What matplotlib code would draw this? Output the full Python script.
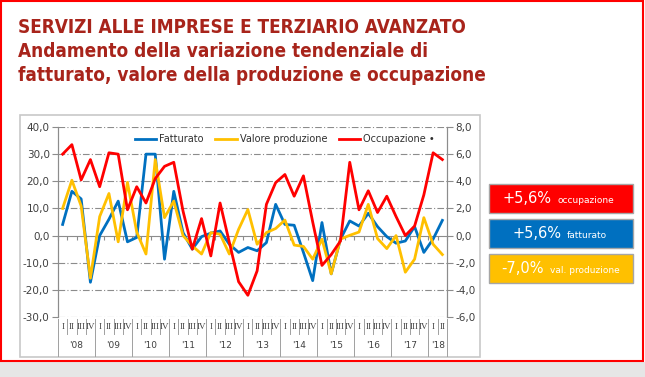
import numpy as np
import matplotlib
matplotlib.use("Agg")
import matplotlib.pyplot as plt
from matplotlib.patches import Rectangle
from matplotlib.lines import Line2D
from matplotlib.transforms import blended_transform_factory

# quarterly data 2008 Q1 - 2018 Q2
quarters = ["I", "II", "III", "IV"] * 10 + ["I", "II"]
years = ["'08", "'09", "'10", "'11", "'12", "'13", "'14", "'15", "'16", "'17", "'18"]

fatturato = [4.1, 16.3, 13.5, -17.2, 0.0, 6.0, 12.7, -2.3, -0.7, 30.0,
             30.0, -8.7, 16.3, 1.1, -5.0, -0.4, 0.9, 1.7, -3.2, -6.2,
             -4.4, -5.6, -2.6, 11.5, 4.1, 3.8, -6.2, -16.6, 4.8, -14.1,
             -1.3, 5.4, 3.5, 8.2, 3.3, -0.4, -2.8, -2.0, 3.3, -6.2,
             -1.3, 5.6]
valore_prod = [10.0, 20.4, 10.9, -15.7, 7.0, 15.5, -2.3, 19.6, 1.3, -6.8,
               28.0, 6.6, 12.7, 0.0, -3.8, -6.8, 1.1, 0.5, -6.8, 2.3,
               9.6, -3.2, 1.1, 2.6, 5.7, -3.5, -4.0, -8.7, -1.3, -14.1,
               -1.3, 0.1, 1.3, 11.5, -1.1, -4.8, 0.0, -13.5, -8.7, 6.6,
               -3.2, -7.0]
occupazione = [6.0, 6.7, 4.1, 5.6, 3.6, 6.1, 6.0, 1.9, 3.6, 2.4,
               4.2, 5.1, 5.4, 1.8, -1.0, 1.25, -1.5, 2.4, -0.5, -3.4,
               -4.4, -2.6, 2.3, 3.9, 4.5, 2.9, 4.4, 1.0, -2.2, -1.4,
               -0.4, 5.4, 1.9, 3.3, 1.7, 2.9, 1.4, 0.0, 0.7, 3.0,
               6.1, 5.6]

box_values = ["+5,6%", "+5,6%", "-7,0%"]
box_labels = ["occupazione", "fatturato", "val. produzione"]

W, H = 645, 377
fig = plt.figure(figsize=(W / 100, H / 100), dpi=100)
fig.patch.set_facecolor("white")


def fx(px):
    return px / W


def fy(py):
    return 1 - py / H


# page border and bottom strip
fig.patches.append(Rectangle((0, 0), 1, fy(362), transform=fig.transFigure,
                             facecolor="#E6E6E6", edgecolor="none", zorder=0))
fig.patches.append(Rectangle((fx(1), fy(361)), fx(642), fy(1) - fy(361),
                             transform=fig.transFigure, facecolor="white",
                             edgecolor="#FF0000", lw=1.5, zorder=0))
# chart frame
fig.patches.append(Rectangle((fx(20), fy(357)), fx(460), fy(115) - fy(357),
                             transform=fig.transFigure, facecolor="white",
                             edgecolor="#C8C8C8", lw=1.2, zorder=1))

title_col = "#A8241B"
for ty, line in zip([33, 57, 81], ["SERVIZI ALLE IMPRESE E TERZIARIO AVANZATO",
                                   "Andamento della variazione tendenziale di",
                                   "fatturato, valore della produzione e occupazione"]):
    fig.text(fx(18), fy(ty), line, family="DejaVu Sans", stretch="condensed",
             weight="bold", fontsize=13.6, color=title_col)

ax = fig.add_axes([fx(58), fy(317), fx(389), fy(127) - fy(317)])
ax.set_zorder(2)
ax.patch.set_visible(False)
x = np.arange(len(fatturato))

grid_col = "#8C8C8C"
for v in [-30, -20, -10, 10, 20, 30, 40]:
    ax.axhline(v, color=grid_col, lw=0.8, ls=(0, (6, 2, 1, 2)), zorder=0)

ax.plot(x, fatturato, color="#0070C0", lw=2, zorder=3, label="Fatturato")
ax.plot(x, valore_prod, color="#FFC000", lw=2, zorder=4, label="Valore produzione")
ax.set_xlim(-0.5, len(x) - 0.5)
ax.set_ylim(-30, 40)
ax.set_yticks(range(-30, 41, 10))
ax.set_yticklabels([f"{v:.1f}".replace(".", ",") for v in range(-30, 41, 10)])

ax2 = ax.twinx()
ax2.plot(x, occupazione, color="#FF0000", lw=2, zorder=5, label="Occupazione \u2022")
ax2.set_ylim(-6, 8)
ax2.set_yticks(range(-6, 9, 2))
ax2.set_yticklabels([f"{v:.1f}".replace(".", ",") for v in range(-6, 9, 2)])

for a in (ax, ax2):
    a.spines["top"].set_visible(False)
    a.tick_params(axis="y", length=4, color=grid_col, labelsize=7.5,
                  labelcolor="#404040", pad=2)
    a.spines["left"].set_color(grid_col)
    a.spines["right"].set_color(grid_col)
ax2.spines["bottom"].set_visible(False)

# category axis sits at zero
ax.spines["bottom"].set_position(("data", 0))
ax.spines["bottom"].set_color(grid_col)
ax.set_xticks(np.arange(-0.5, len(x), 1))
ax.tick_params(axis="x", length=3, color=grid_col, labelbottom=False)

# two-level category labels below the plot
bt = blended_transform_factory(ax.transData, fig.transFigure)
for i, q in enumerate(quarters):
    ax.text(i, fy(327), q, transform=bt, ha="center", va="center",
            fontsize=6.5, family="Liberation Serif", color="#404040")
for i in range(len(x) + 1):
    top, bot = fy(319), fy(334)
    if i % 4 == 0 or i == len(x):
        bot = fy(356)
    fig.add_artist(Line2D([i - 0.5, i - 0.5], [top, bot], transform=bt,
                          color="#A0A0A0", lw=0.7))
for j, yl in enumerate(years):
    start = j * 4
    end = min(start + 4, len(x))
    ax.text((start + end - 1) / 2, fy(346), yl, transform=bt, ha="center",
            va="center", fontsize=6.5, color="#404040")

handles = ax.get_lines()[-2:] + ax2.get_lines()
fig.legend(handles=handles, labels=[h.get_label() for h in handles],
           loc="center", bbox_to_anchor=(fx(285), fy(139)), ncol=3,
           frameon=False, fontsize=7, handlelength=2.2, handletextpad=0.3,
           columnspacing=1.2, labelcolor="#303030")

# summary boxes on the right
box_cols = ["#FF0000", "#0070C0", "#FFC000"]
box_tops = [184, 219, 254]
big_x = [552, 561, 544]
for col, top, val, lab, bx in zip(box_cols, box_tops, box_values, box_labels, big_x):
    fig.patches.append(Rectangle((fx(489), fy(top + 29)), fx(144), fy(top) - fy(top + 29),
                                 transform=fig.transFigure, facecolor=col,
                                 edgecolor="#A6A6A6", lw=1, zorder=2))
    fig.text(fx(bx), fy(top + 19), val, ha="right", va="baseline",
             fontsize=10.5, color="white", zorder=3)
    fig.text(fx(bx + 6), fy(top + 19), lab, ha="left", va="baseline",
             fontsize=6.5, color="white", zorder=3)

fig.savefig("out.png", dpi=100)
